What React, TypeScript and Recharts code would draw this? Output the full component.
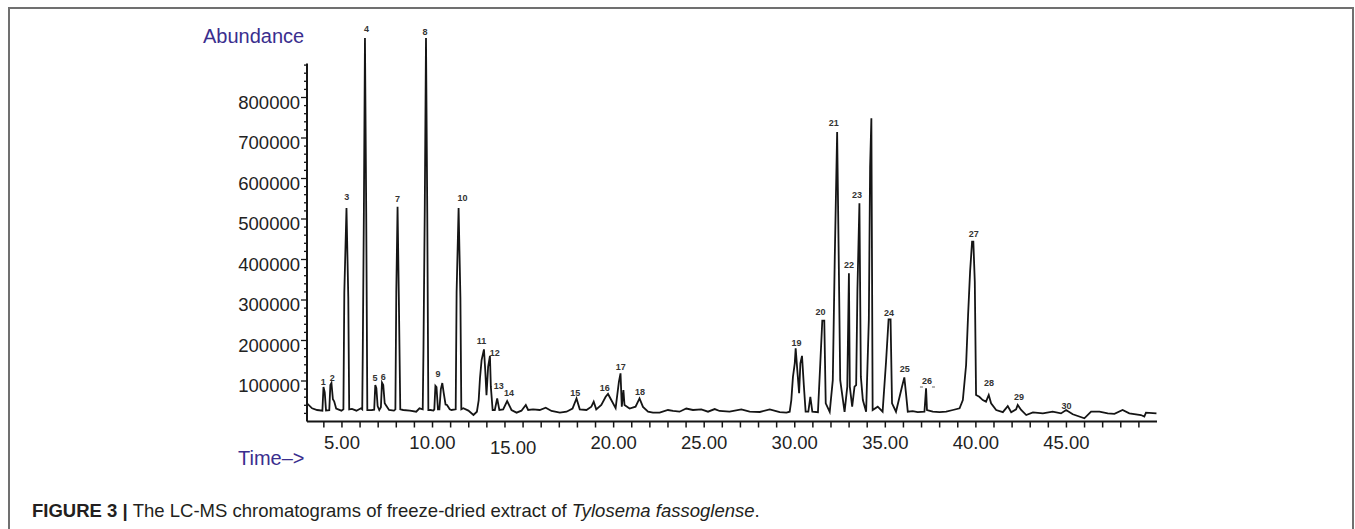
import React from 'react';
import { ComposedChart, Line, Scatter, XAxis, YAxis, ReferenceLine } from 'recharts';

// chromatogram trace (minutes / abundance)
const retentionTimes = [
  3.07, 3.35, 3.63, 3.92, 3.98, 4.05, 4.12, 4.3, 4.36, 4.42, 4.5, 4.57, 4.68, 4.97,
  5.08, 5.13, 5.25, 5.35, 5.4, 5.55, 5.8, 6.05, 6.12, 6.15, 6.21, 6.27, 6.34, 6.4,
  6.65, 6.78, 6.84, 6.9, 6.97, 7.06, 7.15, 7.21, 7.28, 7.36, 7.42, 7.6, 7.87, 7.95,
  8.0, 8.07, 8.14, 8.22, 8.38, 8.75, 9.1, 9.28, 9.46, 9.5, 9.57, 9.64, 9.71, 9.77,
  9.9, 10.05, 10.1, 10.16, 10.22, 10.3, 10.38, 10.46, 10.54, 10.62, 10.72, 10.8,
  10.95, 11.05, 11.28, 11.33, 11.44, 11.54, 11.59, 11.7, 11.98, 12.26, 12.45, 12.55,
  12.62, 12.71, 12.84, 12.91, 12.98, 13.07, 13.17, 13.22, 13.32, 13.44, 13.57, 13.69,
  13.9, 14.12, 14.36, 14.64, 14.91, 15.15, 15.28, 15.55, 15.92, 16.25, 16.57, 17.03,
  17.4, 17.73, 17.95, 18.13, 18.5, 18.77, 18.9, 19.04, 19.32, 19.56, 19.69, 19.87,
  20.11, 20.29, 20.38, 20.45, 20.54, 20.6, 20.88, 21.21, 21.43, 21.62, 21.9, 22.17,
  22.54, 23.0, 23.28, 23.64, 24.01, 24.38, 24.84, 25.21, 25.58, 25.85, 26.4, 27.05,
  27.51, 28.07, 28.62, 29.17, 29.54, 29.72, 29.81, 29.9, 30.0, 30.05, 30.14, 30.24,
  30.31, 30.4, 30.5, 30.6, 30.75, 30.86, 30.97, 31.28, 31.41, 31.52, 31.63, 31.71,
  31.93, 32.1, 32.21, 32.34, 32.42, 32.51, 32.75, 32.9, 32.99, 33.04, 33.17, 33.3,
  33.39, 33.46, 33.57, 33.65, 33.76, 33.94, 34.09, 34.16, 34.23, 34.3, 34.58, 34.85,
  35.04, 35.18, 35.29, 35.37, 35.59, 35.92, 36.05, 36.14, 36.24, 36.51, 36.79, 37.16,
  37.25, 37.3, 37.62, 37.99, 38.36, 38.73, 39.1, 39.28, 39.46, 39.57, 39.68, 39.79,
  39.86, 39.94, 40.01, 40.19, 40.38, 40.56, 40.71, 40.84, 41.12, 41.49, 41.76, 41.95,
  42.22, 42.31, 42.5, 42.78, 43.15, 43.7, 44.24, 44.7, 44.98, 45.35, 45.99, 46.36,
  46.82, 47.28, 47.65, 48.1, 48.47, 49.11, 49.3, 49.39, 49.97,
];

const abundance = [
  45000, 32600, 28400, 26700, 85000, 72000, 27000, 28000, 90000, 95000, 55000, 50000, 32000, 26700,
  30000, 318000, 527000, 304000, 30000, 31000, 26700, 32600, 30000, 176000, 515000, 947000, 515000, 28000,
  28400, 29000, 90000, 82000, 38000, 28400, 35000, 96000, 90000, 45000, 40700, 28400, 27000, 30000,
  320000, 530000, 308000, 30000, 28400, 27000, 24200, 32600, 30000, 176000, 515000, 947000, 515000, 28000,
  28400, 27000, 30000, 88000, 85000, 30000, 30000, 80000, 95000, 70000, 42000, 40700,
  30000, 28400, 30000, 320000, 527000, 304000, 30000, 32600, 27000, 16000, 24200, 53000,
  106700, 151800, 178000, 127000, 65000, 135000, 162000, 86000, 28400, 28400, 57000, 28400,
  30000, 50600, 28400, 21800, 26700, 40700, 28400, 30000, 28400, 34000, 26000, 21800,
  24200, 32000, 57000, 30000, 28400, 36500, 49000, 30000, 40700, 61000, 68000, 53000,
  33000, 98000, 119000, 36500, 77800, 40700, 32000, 36500, 57000, 36000, 24200, 21800,
  21800, 28400, 26000, 24200, 32000, 28400, 30000, 24200, 30700, 26000, 24200, 30000,
  24200, 23500, 30000, 23000, 22000, 24200, 53000, 110000, 143700, 181000, 127000, 70000,
  143700, 162000, 90000, 24200, 24200, 61000, 24200, 23000, 143700, 249000, 249000, 45000,
  24000, 102000, 407000, 715000, 432000, 102000, 24000, 86000, 366000, 86000, 36500, 86000,
  90000, 325000, 539000, 110000, 53000, 24200, 250600, 629000, 749000, 28400, 36500, 24200,
  147600, 252000, 252000, 45000, 24200, 86000, 109000, 70000, 24200, 25500, 23000, 24200,
  82000, 28400, 24200, 23000, 24200, 28400, 32600, 53000, 139500, 263000, 370000, 444000,
  444000, 345000, 65400, 61000, 53000, 49000, 65400, 45000, 28400, 23000, 38000, 23000,
  30000, 41000, 28400, 16000, 22700, 20000, 24200, 20000, 28400, 17800, 7900, 24200,
  24200, 20000, 19000, 28400, 20000, 16000, 12000, 21700, 20000,
];

// numbered peaks: id, retention time, level where the number sits
const peakIds = [
  '1', '2', '3', '4', '5', '6', '7', '8', '9', '10', '11', '12', '13', '14', '15',
  '16', '17', '18', '19', '20', '21', '22', '23', '24', '25', '26', '27', '28', '29', '30',
];
const peakTimes = [
  3.97, 4.47, 5.26, 6.36, 6.82, 7.28, 8.07, 9.58, 10.31, 11.66, 12.71, 13.44, 13.66, 14.23, 17.88,
  19.51, 20.4, 21.45, 30.09, 31.42, 32.15, 33.0, 33.44, 35.2, 36.07, 37.3, 39.88, 40.72, 42.38, 45.0,
];
const peakLabelLevels = [
  98000, 106700, 555000, 968000, 106700, 110600, 548600, 961000, 116500, 551000, 199500, 169900, 87600, 69600, 71100,
  82000, 133800, 73600, 193100, 271100, 737700, 386400, 559200, 267100, 128900, 100000, 462200, 95800, 59700, 38300,
];

const timeTicks = [
  4, 5, 6, 7, 8, 9, 10, 11, 12, 13, 14, 15, 16, 17, 18, 19, 20, 21, 22, 23, 24, 25, 26,
  27, 28, 29, 30, 31, 32, 33, 34, 35, 36, 37, 38, 39, 40, 41, 42, 43, 44, 45, 46, 47, 48, 49,
];
const abundanceTicks = [
  20000, 40000, 60000, 80000, 100000, 120000, 140000, 160000, 180000, 200000, 220000,
  240000, 260000, 280000, 300000, 320000, 340000, 360000, 380000, 400000, 420000, 440000,
  460000, 480000, 500000, 520000, 540000, 560000, 580000, 600000, 620000, 640000, 660000,
  680000, 700000, 720000, 740000, 760000, 780000, 800000, 820000, 840000, 860000, 880000,
];

const AXIS_START = 3.07;
const AXIS_TOP = 884000;
const FONT = '"Liberation Sans", Arial, sans-serif';
const INK = '#151515';
const BLUE = '#3a2e8e';

const trace = retentionTimes.map((t, i) => ({ t, v: abundance[i] }));
const peaks = peakIds.map((id, i) => ({ id, t: peakTimes[i], v: peakLabelLevels[i] }));

const AbundanceTick = (props: any) => {
  const { x, y, payload } = props;
  const major = payload.value % 100000 === 0;
  return (
    <g>
      <line x1={x + (major ? 1 : 4)} x2={x + 8} y1={y} y2={y} stroke={INK} strokeWidth={1.3} />
      {major && (
        <text
          x={x}
          y={y + 4.5}
          textAnchor="end"
          dominantBaseline="central"
          fontFamily={FONT}
          fontSize={18.5}
          fill="#222"
        >
          {payload.value}
        </text>
      )}
    </g>
  );
};

const TimeTick = (props: any) => {
  const { x, y, payload } = props;
  const v = payload.value;
  // the 15.00 label sits a little off in the original printout
  const dx = v === 15 ? -10 : 0;
  const dy = v === 15 ? 5 : 0;
  return (
    <g>
      <line x1={x} x2={x} y1={y - 6} y2={y} stroke={INK} strokeWidth={1.5} />
      {v % 5 === 0 && (
        <text
          x={x + dx}
          y={y + 21.5 + dy}
          textAnchor="middle"
          fontFamily={FONT}
          fontSize={18.5}
          fill="#222"
        >
          {v.toFixed(2)}
        </text>
      )}
    </g>
  );
};

const PeakLabel = (props: any) => {
  const { cx, cy, payload } = props;
  return (
    <g>
      <text
        x={cx}
        y={cy}
        textAnchor="middle"
        dominantBaseline="central"
        fontFamily={FONT}
        fontSize={9}
        fontWeight="bold"
        fill="#333"
      >
        {payload.id}
      </text>
      {payload.id === '26' && (
        <g stroke="#666" strokeWidth={1}>
          <line x1={cx - 7} x2={cx - 4} y1={cy + 6} y2={cy + 6} />
          <line x1={cx + 5} x2={cx + 8} y1={cy + 6} y2={cy + 6} />
        </g>
      )}
    </g>
  );
};

const App: React.FC = () => {
  return (
    <div
      style={{
        position: 'absolute',
        left: 0,
        top: 0,
        width: 1355,
        height: 529,
        overflow: 'hidden',
        background: '#fff',
      }}
    >
      <div
        style={{
          position: 'absolute',
          left: 8,
          top: 7,
          width: 1346,
          height: 600,
          border: '2px solid #707070',
          borderBottom: 'none',
          boxSizing: 'border-box',
        }}
      />
      <div style={{ position: 'absolute', left: 0, top: 0 }}>
        <ComposedChart width={1355} height={529} margin={{ top: 16.5, right: 198, bottom: 67.5, left: 227 }}>
          <XAxis
            type="number"
            dataKey="t"
            domain={[AXIS_START, 50]}
            ticks={timeTicks}
            interval={0}
            allowDataOverflow
            height={40}
            tickSize={6}
            tickMargin={0}
            tickLine={false}
            axisLine={{ stroke: INK, strokeWidth: 2 }}
            tick={<TimeTick />}
          />
          <YAxis
            type="number"
            dataKey="v"
            domain={[0, 1000000]}
            ticks={abundanceTicks}
            interval={0}
            allowDataOverflow
            width={80}
            tickSize={6}
            tickMargin={1}
            tickLine={false}
            axisLine={false}
            tick={<AbundanceTick />}
          />
          <ReferenceLine
            segment={[
              { x: AXIS_START, y: 0 },
              { x: AXIS_START, y: AXIS_TOP },
            ]}
            stroke={INK}
            strokeWidth={2}
          />
          <Line
            data={trace}
            dataKey="v"
            type="linear"
            stroke={INK}
            strokeWidth={1.8}
            dot={false}
            isAnimationActive={false}
          />
          <Scatter data={peaks} dataKey="v" shape={<PeakLabel />} isAnimationActive={false} />
        </ComposedChart>
      </div>
      <svg
        width={1355}
        height={529}
        style={{ position: 'absolute', left: 0, top: 0, pointerEvents: 'none' }}
      >
        <text x={203} y={43} fontFamily={FONT} fontSize={20} fill={BLUE}>
          Abundance
        </text>
        <text x={238} y={465} fontFamily={FONT} fontSize={20} fill={BLUE}>
          Time–&gt;
        </text>
        <text x={32} y={517} fontFamily={FONT} fontSize={18.5} fill="#231f20">
          <tspan fontWeight="bold">FIGURE 3 | </tspan>
          <tspan>The LC-MS chromatograms of freeze-dried extract of </tspan>
          <tspan fontStyle="italic">Tylosema fassoglense</tspan>
          <tspan>.</tspan>
        </text>
      </svg>
    </div>
  );
};

export default App;
